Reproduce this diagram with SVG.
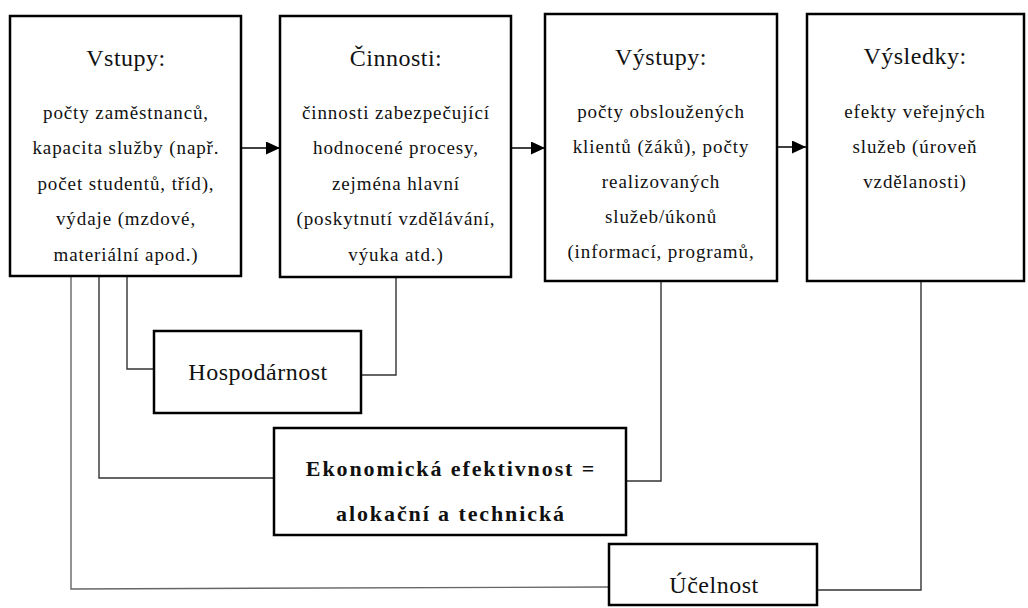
<svg xmlns="http://www.w3.org/2000/svg" width="1028" height="608" viewBox="0 0 1028 608">
<defs>
<style>
.box{fill:#fff;stroke:#000;stroke-width:2.5}
.t{font-family:"Liberation Serif","Times New Roman",serif;fill:#111;text-anchor:middle}
.title{font-size:24px;letter-spacing:0.5px}
.body{font-size:19px;letter-spacing:0.9px}
.bold{font-size:22px;font-weight:bold;letter-spacing:1.9px}
.lbl{font-size:24px;letter-spacing:0.5px}
.c{fill:none;stroke:#333;stroke-width:1.4}
.a{fill:none;stroke:#000;stroke-width:1.5}
</style>
<marker id="ah" viewBox="0 0 14 13" refX="14" refY="6.5" markerWidth="14" markerHeight="13" markerUnits="userSpaceOnUse" orient="auto">
<path d="M0,0 L14,6.5 L0,13 Z" fill="#000"/>
</marker>
</defs>
<rect width="1028" height="608" fill="#fff"/>

<g id="connectors">
<line class="a" x1="242" y1="148" x2="280" y2="148" marker-end="url(#ah)"/>
<line class="a" x1="512" y1="148" x2="545" y2="148" marker-end="url(#ah)"/>
<line class="a" x1="778" y1="147" x2="806" y2="147" marker-end="url(#ah)"/>
<polyline class="c" points="127,277 127,369 154,369"/>
<polyline class="c" points="361,375 396,375 396,278"/>
<polyline class="c" points="99,277 99,478 274,478"/>
<polyline class="c" points="626,481 661,481 661,281"/>
<polyline class="c" style="stroke:#666" points="71,277 71,589 609,587"/>
<polyline class="c" points="817,590 921,590 921,281"/>
</g>

<g id="vstupy">
<rect class="box" x="10" y="16" width="231" height="260"/>
<text class="t title" x="126" y="66">Vstupy:</text>
<text class="t body" x="126" y="119">počty zaměstnanců,</text>
<text class="t body" x="126" y="154">kapacita služby (např.</text>
<text class="t body" x="126" y="190">počet studentů, tříd),</text>
<text class="t body" x="126" y="225">výdaje (mzdové,</text>
<text class="t body" x="126" y="261">materiální apod.)</text>
</g>

<g id="cinnosti">
<rect class="box" x="280" y="16" width="231" height="261"/>
<text class="t title" x="396" y="66">Činnosti:</text>
<text class="t body" x="396" y="119">činnosti zabezpečující</text>
<text class="t body" x="396" y="154">hodnocené procesy,</text>
<text class="t body" x="396" y="190">zejména hlavní</text>
<text class="t body" x="396" y="225">(poskytnutí vzdělávání,</text>
<text class="t body" x="396" y="261">výuka atd.)</text>
</g>

<g id="vystupy">
<rect class="box" x="545" y="14" width="232" height="267"/>
<text class="t title" x="661" y="65">Výstupy:</text>
<text class="t body" x="661" y="118">počty obsloužených</text>
<text class="t body" x="661" y="153">klientů (žáků), počty</text>
<text class="t body" x="661" y="188">realizovaných</text>
<text class="t body" x="661" y="223">služeb/úkonů</text>
<text class="t body" x="661" y="258">(informací, programů,</text>
</g>

<g id="vysledky">
<rect class="box" x="807" y="14" width="217" height="267"/>
<text class="t title" x="915" y="64">Výsledky:</text>
<text class="t body" x="915" y="118">efekty veřejných</text>
<text class="t body" x="915" y="153">služeb (úroveň</text>
<text class="t body" x="915" y="188">vzdělanosti)</text>
</g>

<g id="hospodarnost">
<rect class="box" x="154" y="331" width="207" height="82"/>
<text class="t lbl" x="258" y="380">Hospodárnost</text>
</g>

<g id="efektivnost">
<rect class="box" x="274" y="428" width="352" height="107"/>
<text class="t bold" x="451" y="476">Ekonomická efektivnost =</text>
<text class="t bold" x="451" y="521">alokační a technická</text>
</g>

<g id="ucelnost">
<rect class="box" x="609" y="544" width="208" height="61"/>
<text class="t lbl" x="714" y="593">Účelnost</text>
</g>
</svg>
